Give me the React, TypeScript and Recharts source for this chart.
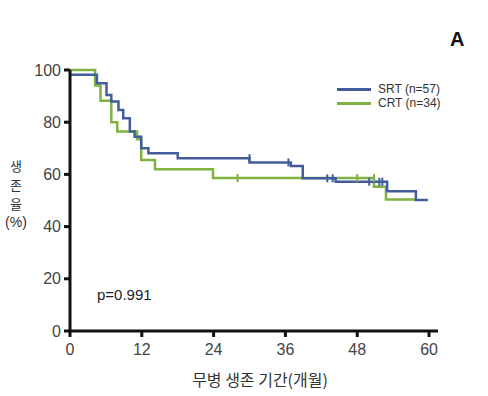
import React from "react";
import {
  ComposedChart,
  Line,
  Scatter,
  XAxis,
  YAxis,
} from "recharts";

// step points (months, survival %)
const SRT_MONTHS = [0, 4.5, 6.1, 6.9, 8.1, 8.9, 10, 10.8, 11.9, 13.1, 18, 30, 36.9, 38.9, 44.4, 53, 57.8, 59.8];
const SRT_SURV = [98.2, 94.9, 90.4, 87.9, 84.7, 81.5, 76.4, 74.4, 70, 68.1, 66.2, 64.6, 63.2, 58.5, 57.2, 53.5, 50.2, 50.2];

const CRT_MONTHS = [0, 4.2, 5.1, 6.9, 7.9, 11.2, 11.9, 14.2, 23.9, 50.8, 52.8, 57.8];
const CRT_SURV = [100, 94.1, 88.2, 80, 76.4, 73.5, 65.5, 62, 58.6, 55.3, 50.4, 50.4];

// censored observations
const SRT_CENSOR_MONTHS = [30, 36.5, 43, 43.9, 50, 51.7, 52.2];
const SRT_CENSOR_SURV = [66.2, 64.6, 58.5, 58.5, 57.2, 57.2, 57.2];
const CRT_CENSOR_MONTHS = [28, 48, 50.8];
const CRT_CENSOR_SURV = [58.6, 58.6, 58.6];

const X_TICKS = [0, 12, 24, 36, 48, 60];
const Y_TICKS = [0, 20, 40, 60, 80, 100];

const BLUE = "#435d9c";
const GREEN = "#7fb23e";
const SANS = "'Liberation Sans', Arial, sans-serif";
const KO = "'Noto Sans CJK KR', 'Noto Sans', sans-serif";

const toPoints = (xs: number[], ys: number[]) => xs.map((t, i) => ({ t, s: ys[i] }));

const srtData = toPoints(SRT_MONTHS, SRT_SURV);
const crtData = toPoints(CRT_MONTHS, CRT_SURV);
const srtCensor = toPoints(SRT_CENSOR_MONTHS, SRT_CENSOR_SURV);
const crtCensor = toPoints(CRT_CENSOR_MONTHS, CRT_CENSOR_SURV);

const censorMark = (color: string) => (props: any) => (
  <line
    x1={props.cx}
    x2={props.cx}
    y1={props.cy - 4}
    y2={props.cy + 4}
    stroke={color}
    strokeWidth={2}
  />
);

export default function App() {
  const tickStyle = { fill: "#444", fontSize: 16, fontFamily: SANS };

  return (
    <div
      style={{
        position: "absolute",
        left: 0,
        top: 0,
        width: 488,
        height: 396,
        background: "#fff",
      }}
    >
      <ComposedChart
        width={488}
        height={396}
        margin={{ top: 70, right: 50, bottom: 25, left: 8 }}
      >
        <XAxis
          type="number"
          dataKey="t"
          domain={[0, 61.5]}
          ticks={X_TICKS}
          allowDataOverflow
          height={40}
          axisLine={{ stroke: "#111", strokeWidth: 3 }}
          tickLine={{ stroke: "#111", strokeWidth: 3 }}
          tickSize={6}
          tickMargin={7}
          tick={tickStyle}
        />
        <YAxis
          type="number"
          dataKey="s"
          domain={[0, 100]}
          ticks={Y_TICKS}
          width={62}
          axisLine={{ stroke: "#111", strokeWidth: 3 }}
          tickLine={{ stroke: "#111", strokeWidth: 3 }}
          tickSize={6}
          tickMargin={3}
          tick={tickStyle}
        />
        <Line
          data={crtData}
          dataKey="s"
          type="stepAfter"
          stroke={GREEN}
          strokeWidth={2.5}
          dot={false}
          isAnimationActive={false}
        />
        <Line
          data={srtData}
          dataKey="s"
          type="stepAfter"
          stroke={BLUE}
          strokeWidth={2.5}
          dot={false}
          isAnimationActive={false}
        />
        <Scatter
          data={crtCensor}
          dataKey="s"
          shape={censorMark(GREEN)}
          isAnimationActive={false}
        />
        <Scatter
          data={srtCensor}
          dataKey="s"
          shape={censorMark(BLUE)}
          isAnimationActive={false}
        />
      </ComposedChart>

      {/* panel letter */}
      <div
        style={{
          position: "absolute",
          left: 450,
          top: 28,
          fontFamily: SANS,
          fontWeight: "bold",
          fontSize: 20,
          color: "#111",
        }}
      >
        A
      </div>

      {/* legend */}
      {[
        { label: "SRT (n=57)", color: BLUE, top: 82 },
        { label: "CRT (n=34)", color: GREEN, top: 96 },
      ].map((item) => (
        <div
          key={item.label}
          style={{
            position: "absolute",
            left: 337,
            top: item.top,
            height: 14,
            display: "flex",
            alignItems: "center",
            fontFamily: SANS,
            fontSize: 12,
            color: "#333",
            lineHeight: "14px",
            whiteSpace: "nowrap",
          }}
        >
          <span
            style={{
              display: "inline-block",
              width: 34,
              height: 3,
              background: item.color,
              marginRight: 7,
            }}
          />
          {item.label}
        </div>
      ))}

      {/* y axis title, stacked */}
      <div
        style={{
          position: "absolute",
          left: 3,
          top: 156,
          width: 26,
          textAlign: "center",
          fontFamily: KO,
          fontSize: 13,
          color: "#333",
          lineHeight: "19px",
        }}
      >
        <div>생</div>
        <div>존</div>
        <div>율</div>
        <div style={{ fontFamily: SANS, fontSize: 14 }}>(%)</div>
      </div>

      {/* p value */}
      <div
        style={{
          position: "absolute",
          left: 97,
          top: 286,
          fontFamily: SANS,
          fontSize: 15,
          color: "#222",
        }}
      >
        p=0.991
      </div>

      {/* x axis title */}
      <div
        style={{
          position: "absolute",
          left: 80,
          width: 360,
          top: 367,
          textAlign: "center",
          fontFamily: KO,
          fontSize: 16,
          color: "#333",
        }}
      >
        무병 생존 기간(개월)
      </div>
    </div>
  );
}
